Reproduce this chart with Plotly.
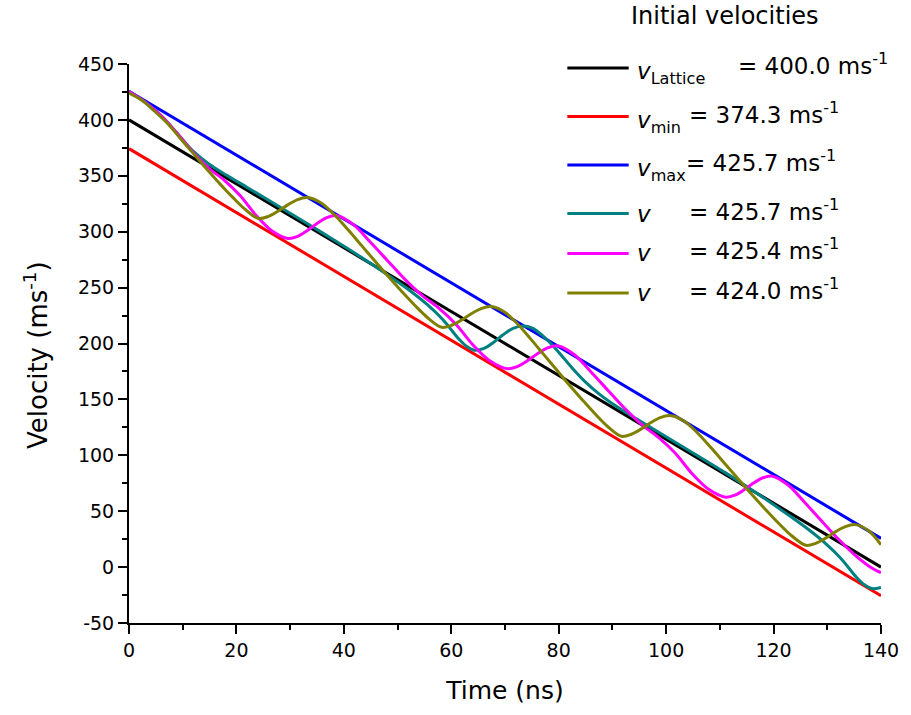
import plotly.graph_objects as go

# ---------------- data ----------------
t_line = [0, 140]
v_lattice = [400.0, 0.0]
v_min_line = [374.3, -25.7]
v_max_line = [425.7, 25.7]

t_teal = [0, 2.96, 5.92, 8.88, 11.84, 14.8, 18, 22, 26, 30, 34, 38, 42, 45.5, 49, 52.5, 55.5,
          58.5, 61.5, 62.9, 64.3, 66.1, 67.9, 69.7, 71.5, 73.3, 75.2, 77.1, 79, 81, 83, 85,
          87.5, 91, 95, 99, 103, 107, 111, 115, 119.5, 123, 126.5, 129.5, 132.5, 135.5, 136.9,
          138.3, 140]
v_teal = [425.7, 416, 404, 388.5, 372.5, 360.8, 350.9, 339.6, 328.1, 316.5, 304.9, 293.0, 281.0,
          270.0, 258.5, 246.5, 234.9, 221, 203.5, 197.3, 194, 195.6, 201.1, 208.0, 213.5, 215.6,
          213.5, 206.5, 197.5, 186.5, 175.5, 165.5, 155, 143, 131.1, 119.5, 107.9, 96.3, 84.5,
          72.0, 57.5, 45.8, 33.6, 21.9, 8.0, -9.5, -15.8, -19.2, -18.2]

t_pink = [0, 2.96, 5.92, 8.88, 11.84, 14.8, 17.76, 20.72, 23.68, 26.64, 29.6, 31.4, 33.2, 35.0,
          36.8, 38.6, 41.78, 44.96, 48.14, 51.32, 54.5, 57.68, 60.86, 64.04, 67.22, 70.4, 72.28,
          74.16, 76.04, 77.92, 79.8, 82.93, 86.06, 89.19, 92.32, 95.45, 98.58, 101.71, 104.84,
          107.97, 111.1, 112.8, 114.5, 116.2, 117.9, 119.6, 122.7, 125.8, 128.9, 132.0, 135.1,
          138.2, 140]
v_pink = [425.4, 416, 404, 388.5, 371.5, 357.1, 345.9, 332.1, 314.4, 300.6, 294, 295.9, 301.1,
          307.4, 312.6, 314.5, 306.3, 290.5, 274.1, 257.6, 243.3, 231.6, 217.2, 198.7, 184.3,
          177.5, 179.4, 184.6, 190.9, 196.1, 198, 189.9, 174.3, 158, 141.8, 127.5, 116, 101.8,
          83.5, 69.3, 62.5, 64.3, 69.1, 74.9, 79.7, 81.5, 73.4, 57.8, 41.5, 25.3, 11, -0.5, -5]

t_olive = [0, 2.41, 4.82, 7.23, 9.64, 12.05, 14.46, 16.87, 19.28, 21.69, 24.1, 25.92, 27.74,
           29.56, 31.38, 33.2, 35.7, 38.2, 40.7, 43.2, 45.7, 48.2, 50.7, 53.2, 55.7, 58.2, 60.04,
           61.88, 63.72, 65.56, 67.4, 69.83, 72.26, 74.69, 77.12, 79.55, 81.98, 84.41, 86.84,
           89.27, 91.7, 93.5, 95.3, 97.1, 98.9, 100.7, 103.23, 105.76, 108.29, 110.82, 113.35,
           115.88, 118.41, 120.94, 123.47, 126, 127.84, 129.68, 131.52, 133.36, 135.2, 137.7, 140]
v_olive = [424.0, 417.5, 407.5, 396.5, 383.0, 369.6, 356.1, 343.2, 330.9, 319.7, 311.8, 313.6,
           318.3, 324.0, 328.7, 330.5, 325.9, 315.4, 302.1, 288.2, 274.2, 260.3, 247.0, 234.2,
           222.6, 214.5, 216.3, 220.9, 226.6, 231.2, 233.0, 228.4, 217.9, 204.6, 190.7, 176.7,
           162.8, 149.5, 136.7, 125.1, 117, 118.8, 123.4, 129.1, 133.7, 135.5, 130.9, 120.4,
           107.1, 93.2, 79.2, 65.3, 52.0, 39.2, 27.6, 19.5, 21.3, 25.9, 31.6, 36.2, 38, 32.5, 20]

x_tickvals = [0, 20, 40, 60, 80, 100, 120, 140]
y_tickvals = [-50, 0, 50, 100, 150, 200, 250, 300, 350, 400, 450]
y_ticktext = ["-50", "0", "50", "100", "150", "200", "250", "300", "350", "400", "450"]

legend_title = "Initial velocities"
legend_names = ["<i>v</i><sub>Lattice</sub>", "<i>v</i><sub>min</sub>", "<i>v</i><sub>max</sub>",
                "<i>v</i>", "<i>v</i>", "<i>v</i>"]
legend_values = ["= 400.0 ms<sup>-1</sup>", "= 374.3 ms<sup>-1</sup>", "= 425.7 ms<sup>-1</sup>",
                 "= 425.7 ms<sup>-1</sup>", "= 425.4 ms<sup>-1</sup>", "= 424.0 ms<sup>-1</sup>"]
colors = ["#000000", "#FF0000", "#0000FF", "#008080", "#FF00FF", "#808000"]

FONT = "DejaVu Sans"

series = [
    (t_line, v_lattice, False),
    (t_line, v_min_line, False),
    (t_line, v_max_line, False),
    (t_teal, v_teal, True),
    (t_pink, v_pink, True),
    (t_olive, v_olive, True),
]

fig = go.Figure()
for (tx, vy, smooth), col, nm, val in zip(series, colors, legend_names, legend_values):
    fig.add_trace(go.Scatter(
        x=tx, y=vy, mode="lines", name=nm + " " + val,
        line=dict(color=col, width=3, shape="spline" if smooth else "linear", smoothing=0.9),
        showlegend=False,
    ))

# ---------------- hand-drawn legend (paper coords) ----------------
W_PLOT = 760.0
H_PLOT = 559.0
L0, T0 = 129.0, 64.0


def px_to_paper_x(px):
    return (px - L0) / W_PLOT


def py_to_paper_y(py):
    return (T0 + H_PLOT - py) / H_PLOT


row_py = [68, 116.5, 165, 213.5, 253.5, 293]
eq_px = [742, 693, 690, 693, 693, 693]
shapes = []
annotations = []
for i, (col, nm, val) in enumerate(zip(colors, legend_names, legend_values)):
    yp = py_to_paper_y(row_py[i])
    shapes.append(dict(type="line", xref="paper", yref="paper",
                       x0=px_to_paper_x(572), x1=px_to_paper_x(634), y0=yp, y1=yp,
                       line=dict(color=col, width=3)))
    name_shift = -5 if i < 3 else 0
    annotations.append(dict(xref="paper", yref="paper", x=px_to_paper_x(640), y=yp,
                            xanchor="left", yanchor="middle", yshift=name_shift,
                            text=nm, showarrow=False,
                            font=dict(family=FONT, size=23, color="black")))
    annotations.append(dict(xref="paper", yref="paper", x=px_to_paper_x(eq_px[i]), y=yp,
                            xanchor="left", yanchor="middle", yshift=4,
                            text=val, showarrow=False,
                            font=dict(family=FONT, size=23, color="black")))

annotations.append(dict(xref="paper", yref="paper", x=px_to_paper_x(731), y=py_to_paper_y(16),
                        xanchor="center", yanchor="middle", text=legend_title, showarrow=False,
                        font=dict(family=FONT, size=24, color="black")))

# y-axis title placed as a rotated annotation
annotations.append(dict(xref="paper", yref="paper", x=px_to_paper_x(35), y=py_to_paper_y(355),
                        xanchor="center", yanchor="middle", textangle=-90,
                        text="Velocity (ms<sup>-1</sup>)", showarrow=False,
                        font=dict(family=FONT, size=26, color="black")))

axis_common = dict(
    showline=True, linecolor="black", linewidth=2, mirror=False,
    showgrid=False, zeroline=False,
    ticks="outside", ticklen=9, tickwidth=2, tickcolor="black",
    tickfont=dict(family=FONT, size=19, color="black"),
)

fig.update_layout(
    width=911, height=715,
    margin=dict(l=129, r=22, t=64, b=92),
    paper_bgcolor="white", plot_bgcolor="white",
    font=dict(family=FONT, color="black"),
    showlegend=False,
    shapes=shapes,
    annotations=annotations,
    xaxis=dict(range=[0, 140], tickmode="array", tickvals=x_tickvals,
               minor=dict(ticks="outside", ticklen=5, tickwidth=2, tickcolor="black",
                          dtick=10, tick0=0, showgrid=False),
               title=dict(text="Time (ns)", font=dict(family=FONT, size=25, color="black"),
                          standoff=22),
               **axis_common),
    yaxis=dict(range=[-50, 450], tickmode="array", tickvals=y_tickvals, ticktext=y_ticktext,
               minor=dict(ticks="outside", ticklen=5, tickwidth=2, tickcolor="black",
                          dtick=25, tick0=0, showgrid=False),
               **axis_common),
)

fig.write_html("out.html")
